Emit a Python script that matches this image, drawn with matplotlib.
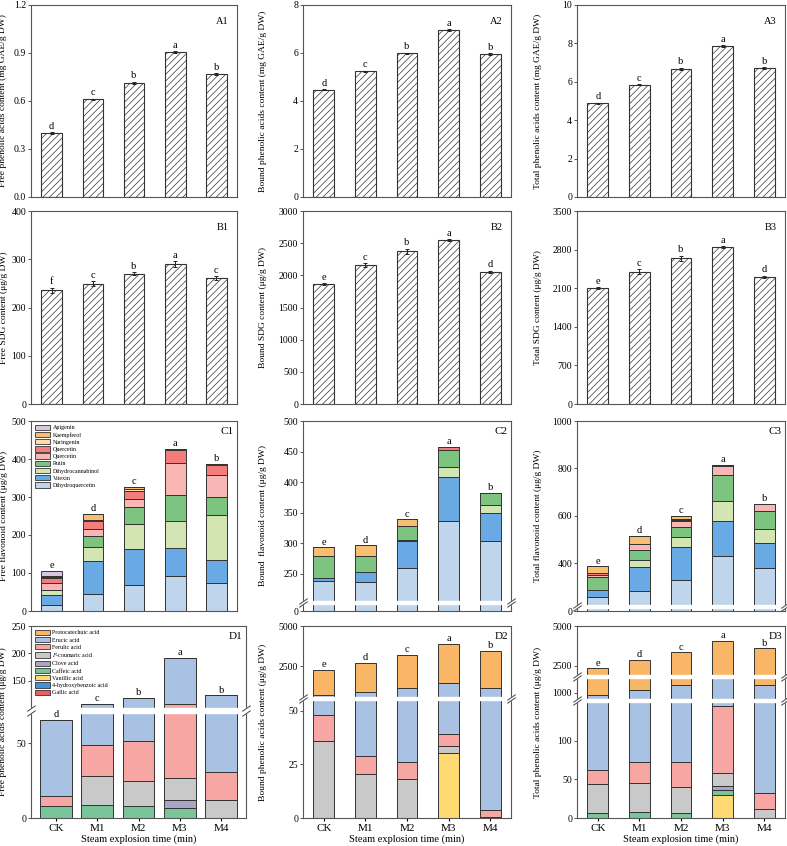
import numpy as np
import matplotlib.pyplot as plt
from matplotlib.patches import Patch

plt.rcParams['font.family'] = ['Liberation Serif', 'DejaVu Serif']
plt.rcParams['mathtext.fontset'] = 'stix'
plt.rcParams['font.size'] = 7.5
plt.rcParams['hatch.linewidth'] = 0.5
plt.rcParams['axes.linewidth'] = 0.8

groups = ['CK', 'M1', 'M2', 'M3', 'M4']

# row A - phenolic acids (mg GAE/g DW)
free_pa = [0.40, 0.61, 0.715, 0.905, 0.77]
free_pa_err = [0.005, 0.004, 0.006, 0.006, 0.005]
free_pa_sig = ['d', 'c', 'b', 'a', 'b']
bound_pa = [4.47, 5.23, 5.98, 6.95, 5.95]
bound_pa_err = [0.03, 0.04, 0.03, 0.04, 0.03]
bound_pa_sig = ['d', 'c', 'b', 'a', 'b']
total_pa = [4.87, 5.85, 6.68, 7.85, 6.72]
total_pa_err = [0.04, 0.04, 0.05, 0.05, 0.04]
total_pa_sig = ['d', 'c', 'b', 'a', 'b']

# row B - SDG (ug/g DW)
free_sdg = [236, 249, 270, 290, 261]
free_sdg_err = [5, 5, 3, 6, 4]
free_sdg_sig = ['f', 'c', 'b', 'a', 'c']
bound_sdg = [1865, 2160, 2375, 2550, 2055]
bound_sdg_err = [12, 30, 40, 10, 15]
bound_sdg_sig = ['e', 'c', 'b', 'a', 'd']
total_sdg = [2100, 2400, 2640, 2845, 2310]
total_sdg_err = [15, 45, 50, 15, 20]
total_sdg_sig = ['e', 'c', 'b', 'a', 'd']

# row C - flavonoids, stacked bottom -> top
flav_names = ['Dihydroquercetin', 'Vitexin', 'Dihydrocannabinol', 'Rutin',
              'Quercetin', 'Quercetin', 'Naringenin', 'Kaempferol', 'Apigenin']
flav_colors = ['#bed5ec', '#6aaae4', '#d3e5b2', '#7cc47f', '#f8b7b5',
               '#f27d7a', '#fcddb0', '#f8bf73', '#d8c8e4']
free_flav = [
    [17, 44, 69, 92.5, 73.5],
    [24.5, 87, 94, 72.5, 60.5],
    [14.5, 37, 66, 73, 118],
    [0, 30, 45, 67, 48],
    [17.5, 19, 21, 85, 57],
    [12.5, 19, 22, 34, 28],
    [3, 4, 5, 2, 1.5],
    [3.5, 16, 4, 1, 0],
    [13.5, 0, 0, 0, 0],
]
bound_flav = [
    [237.5, 236.5, 259, 336, 304],
    [5.5, 16, 44, 73, 46],
    [0, 0, 1.5, 16, 13],
    [35.5, 26, 23.5, 27, 19],
    [0, 0, 0, 0, 0],
    [0, 0, 0, 6, 0],
    [0, 0, 0, 0, 0],
    [14.5, 17.5, 11, 0, 0],
    [0, 0, 0, 0, 0],
]
total_flav = [
    [258, 284, 331, 433, 381],
    [30, 101, 139, 146, 106],
    [0, 29, 42, 83, 59],
    [54, 44, 41, 112, 76],
    [11, 22, 26, 37, 28],
    [5, 3, 4, 3, 1],
    [3, 0, 3, 0, 0],
    [27, 34, 14, 0, 0],
    [0, 0, 0, 0, 0],
]
free_flav_sig = ['e', 'd', 'c', 'a', 'b']
bound_flav_sig = ['e', 'd', 'c', 'a', 'b']
total_flav_sig = ['e', 'd', 'c', 'a', 'b']

# row D - phenolic acid monomers, stacked bottom -> top
acid_names = ['Gallic acid', '4-hydroxybenzoic acid', 'Vanillic acid',
              'Caffeic acid', 'Clove acid', '$\\it{P}$-coumaric acid',
              'Ferulic acid', 'Erucic acid', 'Protocatechuic acid']
acid_colors = ['#ee5c5c', '#4a90d9', '#ffda73', '#79c59a', '#a8a6c4',
               '#c9c9c9', '#f7a7a3', '#a9c1e2', '#f9b666']
free_acid = [
    [0, 0, 0, 0, 0],
    [0, 0, 0, 0, 0],
    [0, 0, 0, 0, 0],
    [8, 9, 8, 6.7, 0],
    [0, 0, 0, 5.2, 0],
    [0, 19, 17, 15, 12.3],
    [7, 21, 26.5, 81, 18.7],
    [50.5, 59, 67.5, 84, 92],
    [0, 0, 0, 0, 0],
]
bound_acid = [
    [0, 0, 0, 0, 0],
    [0, 0, 0, 0, 0],
    [0, 0, 0, 30.4, 0],
    [0, 0, 0, 0, 0],
    [0, 0, 0, 0, 0],
    [36, 20.7, 18, 3.3, 0.6],
    [12, 8.3, 8.2, 5.6, 3.3],
    [680, 881, 1114, 1411, 1136],
    [1545, 1815, 2060, 2430, 2310],
]
total_acid = [
    [0, 0, 0, 0, 0],
    [0, 0, 0, 0, 0],
    [0, 0, 0, 30, 0],
    [7, 8, 7, 6, 0],
    [0, 0, 0, 5, 0],
    [37, 37.5, 33.5, 17.5, 12],
    [18.5, 27.5, 32.5, 86.5, 20],
    [842, 1057, 1297, 1540, 1320],
    [1420, 1720, 1970, 2365, 2238],
]
free_acid_sig = ['d', 'c', 'b', 'a', 'b']
bound_acid_sig = ['e', 'd', 'c', 'a', 'b']
total_acid_sig = ['e', 'd', 'c', 'a', 'b']

W, H = 787, 846
fig = plt.figure(figsize=(W / 100, H / 100), dpi=100)
x = np.arange(len(groups))


def make_ax(left, top, width, bottom):
    ax = fig.add_axes([left / W, 1 - bottom / H, width / W, (bottom - top) / H])
    for s in ax.spines.values():
        s.set_color('#555555')
    ax.tick_params(axis='y', direction='out', length=2.5, width=0.7, pad=1,
                   color='#555555', labelsize=7)
    ax.tick_params(axis='x', length=0, labelbottom=False)
    return ax


def label_y(ax, text, xpix):
    # place the y label at a fixed pixel column, like the reference
    left = ax.get_position().x0 * W
    width = ax.get_position().width * W
    ax.set_ylabel(text, fontsize=6.8)
    ax.yaxis.set_label_coords((xpix - left) / width, 0.5)


def piecewise(ax, vals, pos):
    ax.set_yscale('function', functions=(lambda v: np.interp(v, vals, pos),
                                         lambda p: np.interp(p, pos, vals)))


def add_break(ax, lo, hi):
    ax.axhspan(lo, hi, xmin=-0.02, xmax=1.02, color='white', zorder=4,
               clip_on=False)
    tr = ax.get_yaxis_transform()
    for v in (lo, hi):
        for xp in (0, 1):
            ax.plot([xp], [v], transform=tr, marker=[(-1, -0.7), (1, 0.7)],
                    markersize=6, mew=0.7, color='#444444', linestyle='none',
                    clip_on=False, zorder=5)


def hatched(ax, vals, err, sig, ymax, yticks, ylabel, tag, xlab):
    ax.bar(x, vals, 0.5, color='white', edgecolor='#333333', hatch='/////',
           linewidth=0.8, zorder=2)
    ax.errorbar(x, vals, yerr=err, fmt='none', ecolor='#222222',
                elinewidth=0.7, capsize=1.5, capthick=0.7, zorder=3)
    for i in range(len(x)):
        ax.annotate(sig[i], (x[i], vals[i] + err[i]), xytext=(0, 1),
                    textcoords='offset points', ha='center', va='bottom')
    ax.set_xlim(-0.5, 4.5)
    ax.set_ylim(0, ymax)
    ax.set_yticks(yticks)
    label_y(ax, ylabel, xlab)
    ax.text(0.96, 0.94, tag, transform=ax.transAxes, ha='right', va='top',
            fontsize=7.5)


def stacked(ax, data, colors, sig, width, ymax, yticks, ylabel, tag, xlab):
    bottom = np.zeros(len(x))
    for row, c in zip(data, colors):
        ax.bar(x, row, width, bottom=bottom, color=c, edgecolor='#333333',
               linewidth=0.7, zorder=2)
        bottom = bottom + np.array(row)
    for i in range(len(x)):
        ax.annotate(sig[i], (x[i], bottom[i]), xytext=(0, 0.5),
                    textcoords='offset points', ha='center', va='bottom',
                    zorder=6)
    ax.set_ylim(0, ymax)
    ax.set_yticks(yticks)
    label_y(ax, ylabel, xlab)
    ax.text(0.985, 0.97, tag, transform=ax.transAxes, ha='right', va='top',
            fontsize=8)


cols = [(31, 206), (303, 208), (577, 208)]
labx = [7.5, 267, 542]
rowA, rowB, rowC, rowD = (5, 197), (211, 404), (421, 611), (626, 818)

# row A
ax = make_ax(cols[0][0], rowA[0], cols[0][1], rowA[1])
hatched(ax, free_pa, free_pa_err, free_pa_sig, 1.2, [0, 0.3, 0.6, 0.9, 1.2],
        'Free phenolic acids content (mg GAE/g DW)', 'A1', labx[0])
ax.set_yticklabels(['0.0', '0.3', '0.6', '0.9', '1.2'])
ax = make_ax(cols[1][0], rowA[0], cols[1][1], rowA[1])
hatched(ax, bound_pa, bound_pa_err, bound_pa_sig, 8, [0, 2, 4, 6, 8],
        'Bound phenolic acids content (mg GAE/g DW)', 'A2', labx[1])
ax = make_ax(cols[2][0], rowA[0], cols[2][1], rowA[1])
hatched(ax, total_pa, total_pa_err, total_pa_sig, 10, [0, 2, 4, 6, 8, 10],
        'Total phenolic acids content (mg GAE/g DW)', 'A3', labx[2])

# row B
ax = make_ax(cols[0][0], rowB[0], cols[0][1], rowB[1])
hatched(ax, free_sdg, free_sdg_err, free_sdg_sig, 400, range(0, 401, 100),
        'Free SDG content (μg/g DW)', 'B1', labx[0])
ax = make_ax(cols[1][0], rowB[0], cols[1][1], rowB[1])
hatched(ax, bound_sdg, bound_sdg_err, bound_sdg_sig, 3000, range(0, 3001, 500),
        'Bound SDG content (μg/g DW)', 'B2', labx[1])
ax = make_ax(cols[2][0], rowB[0], cols[2][1], rowB[1])
hatched(ax, total_sdg, total_sdg_err, total_sdg_sig, 3500, range(0, 3501, 700),
        'Total SDG content (μg/g DW)', 'B3', labx[2])

# row C
ax = make_ax(cols[0][0], rowC[0], cols[0][1], rowC[1])
stacked(ax, free_flav, flav_colors, free_flav_sig, 0.5, 500,
        range(0, 501, 100), 'Free flavonoid content (μg/g DW)', 'C1', labx[0])
ax.set_xlim(-0.5, 4.5)
handles = [Patch(facecolor=c, edgecolor='#333333', linewidth=0.6)
           for c in flav_colors][::-1]
ax.legend(handles, flav_names[::-1], loc='upper left', frameon=False,
          fontsize=4.3, handlelength=2.6, handleheight=1.0, labelspacing=0.25,
          borderaxespad=0.2, handletextpad=0.4)

ax = make_ax(cols[1][0], rowC[0], cols[1][1], rowC[1])
piecewise(ax, [0, 195, 205, 500], [0, 7, 10, 190])
stacked(ax, bound_flav, flav_colors, bound_flav_sig, 0.5, 500,
        [0, 250, 300, 350, 400, 450, 500],
        'Bound  flavonoid content (μg/g DW)', 'C2', labx[1])
ax.set_xlim(-0.5, 4.5)
add_break(ax, 195, 205)

ax = make_ax(cols[2][0], rowC[0], cols[2][1], rowC[1])
piecewise(ax, [0, 200, 225, 1000], [0, 3, 6, 190])
stacked(ax, total_flav, flav_colors, total_flav_sig, 0.5, 1000,
        [0, 400, 600, 800, 1000], 'Total flavonoid content (μg/g DW)', 'C3',
        labx[2])
ax.set_xlim(-0.5, 4.5)
add_break(ax, 200, 225)

# row D
ax = make_ax(31, rowD[0], 215, rowD[1])
piecewise(ax, [0, 70, 100, 250], [0, 105, 110, 192])
stacked(ax, free_acid, acid_colors, free_acid_sig, 0.77, 250,
        [0, 50, 150, 200, 250], 'Free phenolic acids content (μg/g DW)', 'D1',
        labx[0])
ax.set_xlim(-0.6, 4.6)
add_break(ax, 70, 100)
handles = [Patch(facecolor=c, edgecolor='#333333', linewidth=0.6)
           for c in acid_colors][::-1]
ax.legend(handles, acid_names[::-1], loc='upper left', frameon=False,
          fontsize=4.3, handlelength=2.6, handleheight=1.0, labelspacing=0.25,
          borderaxespad=0.2, handletextpad=0.4)

ax = make_ax(cols[1][0], rowD[0], cols[1][1], rowD[1])
piecewise(ax, [0, 55, 600, 5000], [0, 118, 121, 192])
stacked(ax, bound_acid, acid_colors, bound_acid_sig, 0.5, 5000,
        [0, 25, 50, 2500, 5000], 'Bound phenolic acids content (μg/g DW)',
        'D2', labx[1])
ax.set_xlim(-0.5, 4.5)
add_break(ax, 55, 600)

ax = make_ax(cols[2][0], rowD[0], cols[2][1], rowD[1])
piecewise(ax, [0, 150, 700, 1700, 1900, 5000], [0, 116, 119, 140, 143, 192])
stacked(ax, total_acid, acid_colors, total_acid_sig, 0.5, 5000,
        [0, 50, 100, 1000, 2500, 5000],
        'Total phenolic acids content (μg/g DW)', 'D3', labx[2])
ax.set_xlim(-0.5, 4.5)
add_break(ax, 150, 700)
add_break(ax, 1700, 1900)

for a in fig.axes[-3:]:
    a.set_xticks(x)
    a.set_xticklabels(groups, fontsize=8)
    a.tick_params(axis='x', length=2, labelbottom=True, pad=2)
    a.set_xlabel('Steam explosion time (min)', labelpad=1)

fig.savefig('out.png', dpi=100)
